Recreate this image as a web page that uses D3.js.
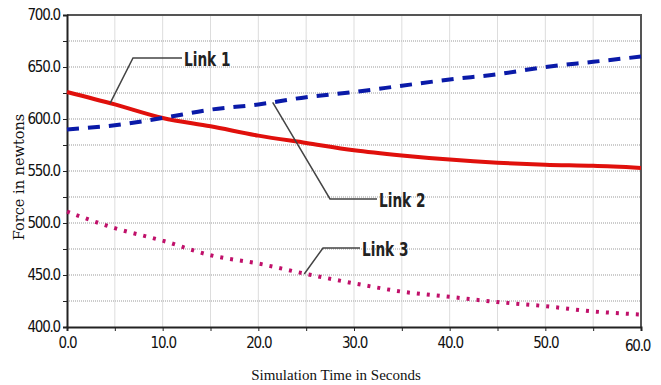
<!DOCTYPE html>
<html>
<head>
<meta charset="utf-8">
<script src="https://cdn.jsdelivr.net/npm/d3@7"></script>
<style>
  body { margin: 0; background: #fff; }
  svg { display: block; }
  .tick text { font-family: "DejaVu Sans Condensed", "Liberation Sans Narrow", sans-serif; font-stretch: condensed; font-size: 15px; fill: #111; }
</style>
</head>
<body>
<svg width="661" height="385"></svg>
<script>
// time in seconds
var times = [0, 5, 10, 15, 20, 25, 30, 35, 40, 45, 50, 55, 60];

// force values (newtons)
var link1 = [626, 614, 601, 593, 584, 577, 570, 565, 561, 558, 556, 555, 553];
var link2 = [590, 594, 601, 609, 614, 621, 626, 632, 638, 643, 650, 655, 660];
var link3 = [511, 495, 483, 469, 461, 451, 442, 434, 429, 424, 420, 415, 412];

var xTicks = [0, 10, 20, 30, 40, 50, 60];
var yTicks = [400, 450, 500, 550, 600, 650, 700];

var svg = d3.select('svg');
var plotL = 67, plotR = 641, plotT = 15, plotB = 327;

var x = d3.scaleLinear().domain([0, 60]).range([plotL, plotR]);
var y = d3.scaleLinear().domain([400, 700]).range([plotB, plotT]);

// grid
svg.append('g').selectAll('line').data(d3.range(5, 60, 5))
  .enter().append('line')
  .attr('x1', function(d) { return x(d); }).attr('x2', function(d) { return x(d); })
  .attr('y1', plotT).attr('y2', plotB)
  .attr('stroke', '#ddd').attr('stroke-width', 1);

svg.append('g').selectAll('line').data(d3.range(425, 700, 25))
  .enter().append('line')
  .attr('x1', plotL).attr('x2', plotR)
  .attr('y1', function(d) { return y(d); }).attr('y2', function(d) { return y(d); })
  .attr('stroke', '#ccc').attr('stroke-width', 2).attr('stroke-dasharray', '1,1');

// frame top/right
svg.append('path')
  .attr('d', 'M' + plotL + ',' + plotT + 'H' + plotR + 'V' + plotB)
  .attr('fill', 'none').attr('stroke', '#555').attr('stroke-width', 2);

// axes
var xAxis = d3.axisBottom(x).tickValues(d3.range(0, 65, 5)).tickSize(4).tickPadding(6)
  .tickFormat(function(d) { return xTicks.indexOf(d) >= 0 ? d.toFixed(1) : ''; });
var gx = svg.append('g').attr('transform', 'translate(0,' + plotB + ')').call(xAxis);

var yAxis = d3.axisLeft(y).tickValues(d3.range(400, 725, 25)).tickSize(4).tickPadding(3)
  .tickFormat(function(d) { return yTicks.indexOf(d) >= 0 ? d.toFixed(1) : ''; });
var gy = svg.append('g').attr('transform', 'translate(' + plotL + ',0)').call(yAxis);

[gx, gy].forEach(function(g) {
  g.select('.domain').attr('stroke', '#222').attr('stroke-width', 2);
  g.selectAll('.tick line').attr('stroke', '#222');
  g.selectAll('.tick text').style('letter-spacing', '-1.2px');
});
gx.selectAll('.tick text').filter(function(d) { return d === 60; })
  .attr('dy', '0.95em').attr('dx', '-4px');

// series
var line = d3.line()
  .x(function(d) { return x(d[0]); })
  .y(function(d) { return y(d[1]); })
  .curve(d3.curveMonotoneX);

svg.append('path').datum(d3.zip(times, link3))
  .attr('d', line).attr('fill', 'none').attr('stroke', '#c0106a')
  .attr('stroke-width', 4).attr('stroke-dasharray', '3,7');

svg.append('path').datum(d3.zip(times, link1))
  .attr('d', line).attr('fill', 'none').attr('stroke', '#e0100c')
  .attr('stroke-width', 4);

svg.append('path').datum(d3.zip(times, link2))
  .attr('d', line).attr('fill', 'none').attr('stroke', '#0a1aa8')
  .attr('stroke-width', 4).attr('stroke-dasharray', '12,9');

// callouts
var labels = [
  {text: 'Link 1', t: 4.5, v: 615, bx: 133, by: 58, ex: 182},
  {text: 'Link 2', t: 21.5, v: 616, bx: 330, by: 199, ex: 377},
  {text: 'Link 3', t: 24.8, v: 451, bx: 323, by: 248, ex: 360}
];
labels.forEach(function(l) {
  svg.append('path')
    .attr('d', 'M' + x(l.t) + ',' + y(l.v) + 'L' + l.bx + ',' + l.by + 'H' + l.ex)
    .attr('fill', 'none').attr('stroke', '#444').attr('stroke-width', 1.5);
  svg.append('text')
    .attr('transform', 'translate(' + (l.ex + 2) + ',' + (l.by + 8) + ') scale(0.8,1)')
    .attr('font-family', '"DejaVu Sans Condensed", "Liberation Sans Narrow", sans-serif')
    .attr('font-stretch', 'condensed')
    .attr('font-size', 19).attr('font-weight', 'bold').attr('fill', '#222')
    .text(l.text);
});

// axis titles
svg.append('text')
  .attr('x', 336).attr('y', 380).attr('text-anchor', 'middle')
  .attr('font-family', '"Liberation Serif", "Times New Roman", serif')
  .attr('font-size', 15).attr('fill', '#111')
  .text('Simulation Time in Seconds');

svg.append('text')
  .attr('transform', 'translate(24,177) rotate(-90)')
  .attr('text-anchor', 'middle')
  .attr('font-family', '"DejaVu Serif", serif')
  .attr('font-size', 14.5).attr('fill', '#111')
  .text('Force in newtons');
</script>
</body>
</html>
